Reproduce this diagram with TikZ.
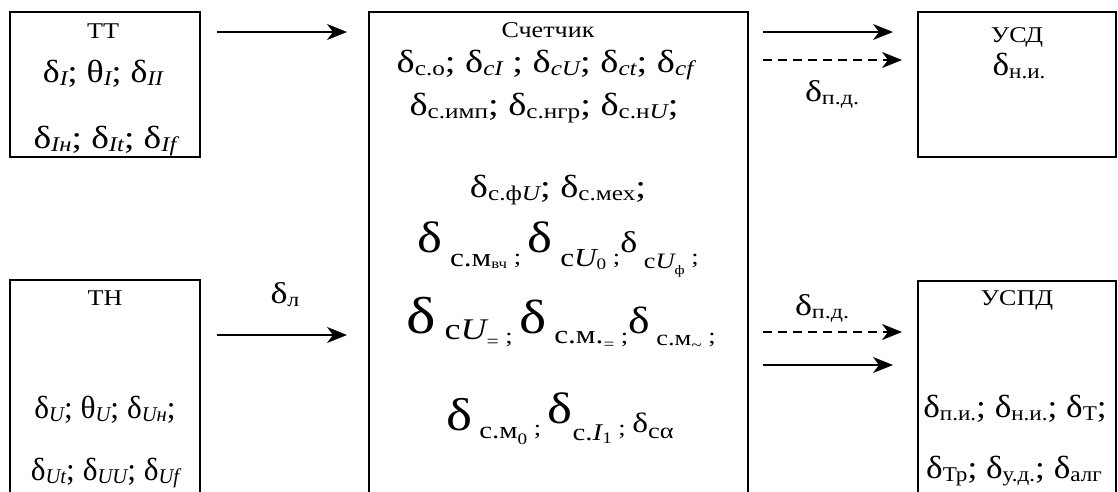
\documentclass[tikz,border=0pt]{standalone}
\usepackage{fontspec}
\usepackage{graphicx}
\setmainfont{Liberation Serif}
\usetikzlibrary{arrows.meta}
\newcommand\fs[1]{\fontsize{#1}{#1}\selectfont}
\newcommand\Lw[2]{\raisebox{-#1pt}{#2}}
\newcommand\W[2][1.2]{\scalebox{#1}[1]{#2}}
\newcommand\Lb[1]{\scalebox{1.16}[1]{\fs{22.5}#1}}
\begin{document}
\begin{tikzpicture}[x=1pt,y=-1pt,
  box/.style={draw,line width=2.2pt,inner sep=0pt},
  txt/.style={anchor=base,inner sep=0pt},
  arr/.style={line width=1.7pt,-{Stealth[length=20pt,width=16pt,inset=6pt]}},
  darr/.style={arr,dash pattern=on 9pt off 6pt}]
\useasboundingbox (0,0) rectangle (1118,491);
\clip (0,0) rectangle (1118,491);
% boxes
\node[box,minimum width=190pt,minimum height=145pt] (tt) at (105,84.5) {};
\node[box,minimum width=190pt,minimum height=240pt] (tn) at (105,400) {};
\node[box,minimum width=379pt,minimum height=508pt] (sch) at (558.5,266) {};
\node[box,minimum width=198pt,minimum height=145pt] (usd) at (1017,84.5) {};
\node[box,minimum width=198pt,minimum height=240pt] (uspd) at (1017,401) {};
% arrows
\coordinate (a1s) at (217,32); \coordinate (a1e) at (347,32);
\coordinate (a2s) at (217,335); \coordinate (a2e) at (347,335);
\coordinate (b1s) at (763,32); \coordinate (b1e) at (893,32);
\coordinate (b2s) at (763,60); \coordinate (b2e) at (902,60);
\coordinate (c1s) at (763,332); \coordinate (c1e) at (902,332);
\coordinate (c2s) at (763,365); \coordinate (c2e) at (893,365);
\draw[arr] (a1s) -- (a1e);
\draw[arr] (a2s) -- (a2e);
\draw[arr] (b1s) -- (b1e);
\draw[darr] (b2s) -- (b2e);
\draw[darr] (c1s) -- (c1e);
\draw[arr] (c2s) -- (c2e);
\node[txt] (ld) at (285,303) {\W{\fs{30}δ\Lw{3}{\fs{20}л}}};
\node[txt] (lp1) at (832,101) {\W{\fs{30}δ\Lw{3}{\fs{20}п.д.}}};
\node[txt] (lp2) at (822,315) {\W{\fs{30}δ\Lw{3}{\fs{20}п.д.}}};
% TT
\node[txt] (ttl) at (103,38) {\Lb{ТТ}};
\node[txt] (tt1) at (103,82) {\W[1.12]{\fs{32}δ\Lw{3}{\fs{21}\itshape I}; θ\Lw{3}{\fs{21}\itshape I}; δ\Lw{3}{\fs{21}\itshape II}}};
\node[txt] (tt2) at (105,148) {\W[1.17]{\fs{32}δ\Lw{3}{\fs{21}\itshape Iн}; δ\Lw{3}{\fs{21}\itshape It}; δ\Lw{3}{\fs{21}\itshape If}}};
% TH
\node[txt] (tnl) at (105,305) {\Lb{ТН}};
\node[txt] (tn1) at (105,418) {\W[0.98]{\fs{32}δ\Lw{3}{\fs{21}\itshape U}; θ\Lw{3}{\fs{21}\itshape U}; δ\Lw{3}{\fs{21}\itshape Uн};}};
\node[txt] (tn2) at (105,480) {\W[0.98]{\fs{32}δ\Lw{3}{\fs{21}\itshape Ut}; δ\Lw{3}{\fs{21}\itshape UU}; δ\Lw{3}{\fs{21}\itshape Uf}}};
% counter
\node[txt] (schl) at (548,37) {\Lb{Счетчик}};
\node[txt] (s1) at (545,72) {\W{\fs{32}δ\Lw{3}{\fs{21}с.о}; δ\Lw{3}{\fs{21}\itshape cI} ; δ\Lw{3}{\fs{21}\itshape cU}; δ\Lw{3}{\fs{21}\itshape ct}; δ\Lw{3}{\fs{21}\itshape cf}}};
\node[txt] (s2) at (544,115) {\W{\fs{32}δ\Lw{3}{\fs{21}с.имп}; δ\Lw{3}{\fs{21}с.нгр}; δ\Lw{3}{\fs{21}с.н\itshape U};}};
\node[txt] (s3) at (558,197) {\W{\fs{32}δ\Lw{3}{\fs{21}с.ф\itshape U}; δ\Lw{3}{\fs{21}с.мех};}};
\node[txt] (s4) at (558,252) {\W{{\fs{44}δ}\Lw{14}{\fs{26} с.м\Lw{2}{\fs{14}вч}}\Lw{12}{\fs{22} ; }{\fs{44}δ}\Lw{14}{\fs{26} c\itshape U\Lw{3}{\upshape\fs{16}0}}\Lw{12}{\fs{22} ;}{\fs{30}δ}\Lw{16}{\fs{22} c\itshape U\Lw{6}{\upshape\fs{13}ф}}\Lw{12}{\fs{22} ;}}};
\node[txt] (s5) at (561,333) {\W{{\fs{52}δ}\Lw{6}{\fs{30} c\itshape U\Lw{8}{\upshape\fs{18}=}}\Lw{10}{\fs{22} ; }{\fs{48}δ}\Lw{10}{\fs{26} с.м.\Lw{6}{\fs{16}=}}\Lw{10}{\fs{22} ;}{\fs{38}δ}\Lw{12}{\fs{22} с.м\Lw{5}{\fs{16}\textasciitilde}}\Lw{10}{\fs{22} ;}}};
\node[txt] (s6) at (560,430) {\W{{\fs{46}δ}\Lw{8}{\fs{24} с.м\Lw{6}{\fs{16}0}}\Lw{5}{\fs{22} ; }\raisebox{7pt}{\fs{44}δ}\Lw{10}{\fs{24}c.\itshape I\Lw{3}{\upshape\fs{16}1}}\Lw{5}{\fs{22} ; }\Lw{2}{\fs{28}δ\Lw{6}{\fs{22}cα}}}};
% USD
\node[txt] (usdl) at (1017,42) {\Lb{УСД}};
\node[txt] (usd1) at (1019,75) {\W[1.1]{\fs{32}δ\Lw{3}{\fs{21}н.и.}}};
% USPD
\node[txt] (uspdl) at (1017,305) {\Lb{УСПД}};
\node[txt] (uspd1) at (1015,417) {\W[1.1]{\fs{32}δ\Lw{3}{\fs{21}п.и.}; δ\Lw{3}{\fs{21}н.и.}; δ\Lw{3}{\fs{21}Т};}};
\node[txt] (uspd2) at (1014,478) {\W[1.1]{\fs{32}δ\Lw{3}{\fs{21}Тр}; δ\Lw{3}{\fs{21}у.д.}; δ\Lw{3}{\fs{21}алг}}};
\end{tikzpicture}
\end{document}
